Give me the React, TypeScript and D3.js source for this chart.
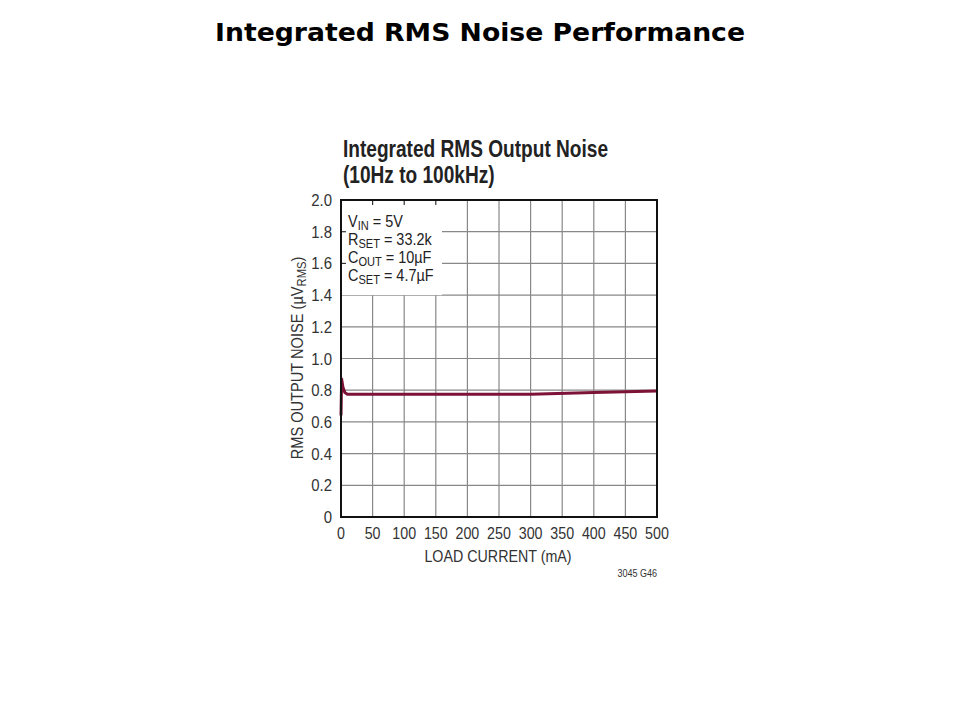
import React from 'react';
import * as d3 from 'd3';

// valeurs
const loadCurrent = [0, 1, 3, 6, 10, 50, 150, 300, 400, 500];
const rmsNoise = [0.64, 0.87, 0.82, 0.785, 0.775, 0.775, 0.775, 0.775, 0.785, 0.795];
const xTicks = [0, 50, 100, 150, 200, 250, 300, 350, 400, 450, 500];
const yTicks = [0, 0.2, 0.4, 0.6, 0.8, 1.0, 1.2, 1.4, 1.6, 1.8, 2.0];
const legendLines = [
  ['V', 'IN', ' = 5V'],
  ['R', 'SET', ' = 33.2k'],
  ['C', 'OUT', ' = 10µF'],
  ['C', 'SET', ' = 4.7µF'],
];

const W = 960;
const H = 720;
const LEFT = 341;
const RIGHT = 657;
const TOP = 200;
const BOTTOM = 517;
const FONT = "'Liberation Sans', Arial, sans-serif";

// texte « étroit » : pas de police condensée installée, on compresse en x
interface TProps {
  x: number;
  y: number;
  sx?: number;
  rotate?: number;
  anchor?: 'start' | 'middle' | 'end';
  size?: number;
  weight?: string;
  fill?: string;
  children: React.ReactNode;
}

const T: React.FC<TProps> = ({ x, y, sx = 0.85, rotate, anchor = 'start', size = 16, weight, fill = '#333', children }) => (
  <g transform={`translate(${x},${y})${rotate ? ` rotate(${rotate})` : ''} scale(${sx},1)`}>
    <text textAnchor={anchor} fontFamily={FONT} fontSize={size} fontWeight={weight} fill={fill}>
      {children}
    </text>
  </g>
);

const App: React.FC = () => {
  const x = d3.scaleLinear().domain([0, 500]).range([LEFT, RIGHT]);
  const y = d3.scaleLinear().domain([0, 2]).range([BOTTOM, TOP]);

  const line = d3.line<number>()
    .x((_, i) => x(loadCurrent[i]))
    .y(d => y(d));

  // cadre de la légende (masque la grille)
  const boxRight = 442;
  const boxBottom = y(1.4);

  return (
    <svg width={W} height={H} style={{ position: 'absolute', left: 0, top: 0, background: '#fff' }}>
      <text x={480} y={41} textAnchor="middle" fontFamily="'DejaVu Sans', Verdana, sans-serif"
        fontWeight="bold" fontSize={25} fill="#000" textLength={530} lengthAdjust="spacingAndGlyphs">
        Integrated RMS Noise Performance
      </text>

      <T x={343} y={157} sx={0.83} size={23} weight="bold" fill="#222">Integrated RMS Output Noise</T>
      <T x={343} y={183} sx={0.83} size={23} weight="bold" fill="#222">(10Hz to 100kHz)</T>

      {/* grille */}
      {xTicks.slice(1, -1).map(t => (
        <line key={'gx' + t} x1={x(t)} x2={x(t)} y1={TOP} y2={BOTTOM} stroke="#888" strokeWidth={1.2} />
      ))}
      {yTicks.slice(1, -1).map(t => (
        <line key={'gy' + t} x1={LEFT} x2={RIGHT} y1={y(t)} y2={y(t)} stroke="#888" strokeWidth={1.2} />
      ))}

      {/* légende */}
      <rect x={LEFT + 1} y={TOP + 1} width={boxRight - LEFT - 1} height={boxBottom - TOP - 1} fill="#fff" />
      {yTicks.filter(t => t > 1.4 && t < 2).map(t => (
        <line key={'ty' + t} x1={LEFT} x2={LEFT + 5} y1={y(t)} y2={y(t)} stroke="#333" strokeWidth={1.2} />
      ))}
      {xTicks.filter(t => t > 0 && x(t) < boxRight).map(t => (
        <line key={'tx' + t} x1={x(t)} x2={x(t)} y1={TOP} y2={TOP + 5} stroke="#333" strokeWidth={1.2} />
      ))}
      {legendLines.map((l, i) => (
        <T key={'lg' + i} x={348} y={227 + i * 18} sx={0.85} size={17} fill="#222">
          {l[0]}
          <tspan fontSize={13} dy={3}>{l[1]}</tspan>
          <tspan dy={-3}>{l[2]}</tspan>
        </T>
      ))}

      {/* courbe */}
      <path d={line(rmsNoise) ?? ''} fill="none" stroke="#7d1238" strokeWidth={3} strokeLinejoin="round" />

      {/* cadre */}
      <rect x={LEFT} y={TOP} width={RIGHT - LEFT} height={BOTTOM - TOP} fill="none" stroke="#111" strokeWidth={2} />

      {/* axes */}
      {yTicks.map(t => (
        <T key={'yl' + t} x={332} y={y(t) + 6} anchor="end" sx={0.88} size={17}>
          {t === 0 ? '0' : t.toFixed(1)}
        </T>
      ))}
      {xTicks.map(t => (
        <T key={'xl' + t} x={x(t)} y={539} anchor="middle" sx={0.84} size={17}>
          {t}
        </T>
      ))}
      <T x={498} y={562} anchor="middle" sx={0.84} size={17}>LOAD CURRENT (mA)</T>
      <T x={303} y={358} rotate={-90} anchor="middle" sx={0.86} size={17}>
        RMS OUTPUT NOISE (µV<tspan fontSize={13} dy={3}>RMS</tspan><tspan dy={-3}>)</tspan>
      </T>
      <T x={657} y={577} anchor="end" sx={0.82} size={11}>3045 G46</T>
    </svg>
  );
};

export default App;
